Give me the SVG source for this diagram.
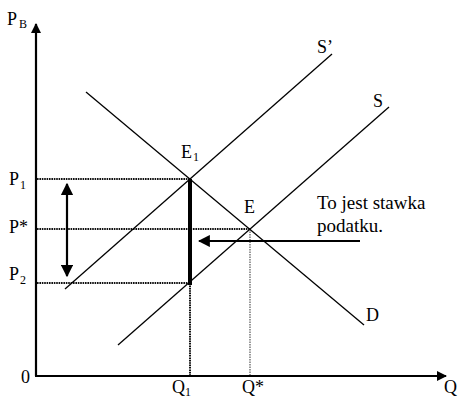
<svg xmlns="http://www.w3.org/2000/svg" width="458" height="398" viewBox="0 0 458 398">
<style>
text{font-family:"Liberation Serif","Times New Roman",serif;font-size:18px;fill:#000}
.sub{font-size:12px}
.note{font-size:19px}
.ln{stroke:#000;stroke-width:1.3;fill:none}
.ax{stroke:#000;stroke-width:2.2;fill:none}
.dot{stroke:#111;stroke-width:2;stroke-dasharray:1.6,0.8;fill:none}
.dotl{stroke:#555;stroke-width:1.2;stroke-dasharray:1.5,1;fill:none}
</style>
<defs>
<marker id="ah" viewBox="0 0 10 10" refX="9" refY="5" markerWidth="10" markerHeight="10" markerUnits="userSpaceOnUse" orient="auto-start-reverse">
<path d="M0,0 L10,5 L0,10 Z" fill="#000"/>
</marker>
<marker id="ahs" viewBox="0 0 10 10" refX="9" refY="5" markerWidth="5.5" markerHeight="5.5" orient="auto-start-reverse">
<path d="M0,0 L10,5 L0,10 Z" fill="#000"/>
</marker>
</defs>
<g id="axes">
<line class="ax" x1="36" y1="376" x2="36" y2="24" marker-end="url(#ah)"/>
<line class="ax" x1="35" y1="376" x2="446" y2="376" marker-end="url(#ah)"/>
<text x="7" y="25">P</text><text class="sub" x="19" y="28">B</text>
<text x="21" y="383">0</text>
<text x="444" y="393">Q</text>
</g>
<g id="connectors">
<line class="dot" x1="37" y1="179" x2="190" y2="179"/>
<line class="dot" x1="37" y1="229" x2="250" y2="229"/>
<line class="dot" x1="37" y1="283" x2="190" y2="283"/>
<line class="dot" x1="190" y1="283" x2="190" y2="375"/>
<line class="dotl" x1="250" y1="229" x2="250" y2="375"/>
<line x1="190" y1="179" x2="190" y2="285" stroke="#000" stroke-width="4"/>
<line class="ax" x1="67" y1="184" x2="67" y2="276" marker-start="url(#ahs)" marker-end="url(#ahs)"/>
<line class="ax" x1="360" y1="241" x2="199" y2="241" marker-end="url(#ahs)"/>
</g>
<g id="curve-D">
<line class="ln" x1="86" y1="92" x2="364" y2="325"/>
<text x="366" y="321">D</text>
</g>
<g id="curve-S">
<line class="ln" x1="118" y1="345" x2="389" y2="107"/>
<text x="373" y="107">S</text>
</g>
<g id="curve-S-prime">
<line class="ln" x1="65" y1="289" x2="332" y2="54"/>
<text x="317" y="53">S’</text>
</g>
<g id="point-E1">
<text x="181" y="158">E</text><text class="sub" x="193" y="161">1</text>
</g>
<g id="point-E">
<text x="244" y="213">E</text>
</g>
<g id="label-P1"><text x="9" y="185">P</text><text class="sub" x="20" y="189">1</text></g>
<g id="label-Pstar"><text x="9" y="233">P*</text></g>
<g id="label-P2"><text x="9" y="280">P</text><text class="sub" x="20" y="284">2</text></g>
<g id="label-Q1"><text x="172" y="393">Q</text><text class="sub" x="185" y="396">1</text></g>
<g id="label-Qstar"><text x="242" y="393">Q*</text></g>
<g id="note">
<text class="note" x="317" y="209">To jest stawka</text>
<text class="note" x="317" y="232">podatku.</text>
</g>
</svg>
